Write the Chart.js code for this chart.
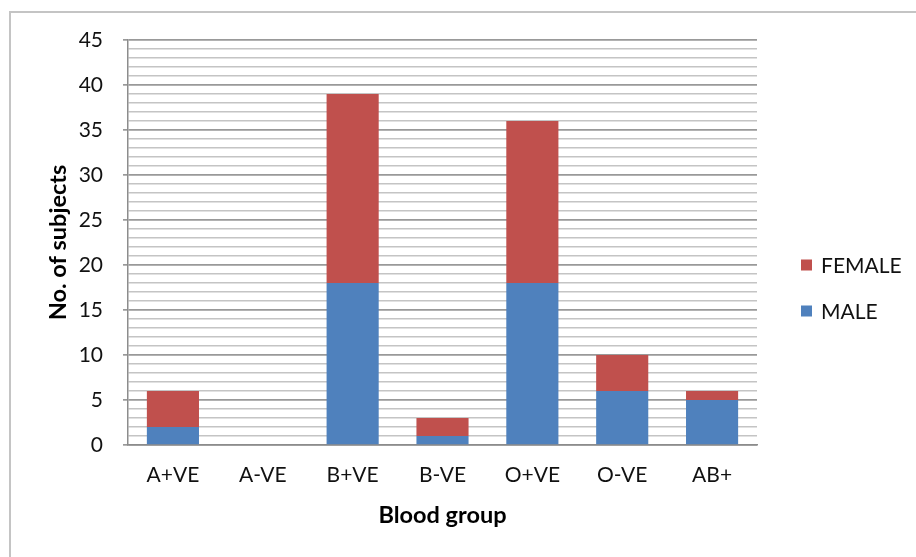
<!DOCTYPE html>
<html>
<head>
<meta charset="utf-8">
<script src="https://cdn.jsdelivr.net/npm/chart.js@4/dist/chart.umd.min.js"></script>
<style>
  html, body { margin: 0; padding: 0; background: #ffffff; }
  #wrap { width: 916px; height: 557px; }
</style>
</head>
<body>
<div id="wrap"><canvas id="chart" width="916" height="557"></canvas></div>
<script>
// Blood group distribution of subjects by sex
const bloodGroups = ['A+VE', 'A-VE', 'B+VE', 'B-VE', 'O+VE', 'O-VE', 'AB+'];
const maleCounts = [2, 0, 18, 1, 18, 6, 5];
const femaleCounts = [4, 0, 21, 2, 18, 4, 1];
const seriesNames = ['MALE', 'FEMALE'];
const yTickValues = [0, 5, 10, 15, 20, 25, 30, 35, 40, 45];

const FONT = 'Lato, "Open Sans", "Liberation Sans", sans-serif';
const BLUE = '#4f81bd';
const RED = '#c0504d';

// Outer frame of the chart object
const framePlugin = {
  id: 'frame',
  beforeDraw(chart) {
    const ctx = chart.ctx;
    ctx.save();
    ctx.fillStyle = '#ffffff';
    ctx.fillRect(0, 0, chart.width, chart.height);
    ctx.strokeStyle = '#c4c4c4';
    ctx.lineWidth = 2;
    ctx.strokeRect(10, 12, chart.width + 20, chart.height + 20);
    ctx.restore();
  }
};

// Legend on the right, last series on top
const sideLegendPlugin = {
  id: 'sideLegend',
  afterDraw(chart) {
    const ctx = chart.ctx;
    const sets = chart.data.datasets.slice().reverse();
    const x = chart.chartArea.right + 44;
    let y = 265;
    ctx.save();
    ctx.font = '21px ' + FONT;
    ctx.textBaseline = 'middle';
    ctx.textAlign = 'left';
    sets.forEach(ds => {
      ctx.fillStyle = ds.backgroundColor;
      ctx.fillRect(x, y - 5.5, 11, 11);
      ctx.fillStyle = '#111111';
      ctx.fillText(ds.label, x + 20, y + 1);
      y += 46;
    });
    ctx.restore();
  }
};

new Chart(document.getElementById('chart'), {
  type: 'bar',
  data: {
    labels: bloodGroups,
    datasets: [
      { label: seriesNames[0], data: maleCounts, backgroundColor: BLUE, borderWidth: 0 },
      { label: seriesNames[1], data: femaleCounts, backgroundColor: RED, borderWidth: 0 }
    ]
  },
  options: {
    responsive: false,
    maintainAspectRatio: false,
    animation: false,
    layout: { padding: { left: 0, right: 159, top: 40, bottom: 0 } },
    datasets: { bar: { categoryPercentage: 1.0, barPercentage: 0.58 } },
    plugins: {
      legend: { display: false },
      tooltip: { enabled: false }
    },
    scales: {
      x: {
        stacked: true,
        afterFit(scale) { scale.height = 112; },
        grid: { display: false, drawTicks: false },
        border: { display: true, color: '#8c8c8c', width: 1.5 },
        ticks: {
          padding: 18,
          color: '#111111',
          font: { family: FONT, size: 21 },
          maxRotation: 0
        },
        title: {
          display: true,
          text: 'Blood group',
          color: '#000000',
          font: { family: FONT, size: 23.5, weight: 'bold' },
          padding: { top: 0, bottom: 27 }
        }
      },
      y: {
        stacked: true,
        min: 0,
        max: 45,
        afterFit(scale) { scale.width = 128; },
        afterBuildTicks(scale) {
          const ticks = [];
          for (let v = 0; v <= yTickValues[yTickValues.length - 1]; v++) ticks.push({ value: v });
          scale.ticks = ticks;
        },
        grid: {
          drawTicks: true,
          tickLength: 5,
          color: c => (yTickValues.includes(c.tick.value) ? '#999999' : '#c4c4c4'),
          tickColor: c => (yTickValues.includes(c.tick.value) ? '#999999' : 'rgba(0,0,0,0)'),
          lineWidth: c => (yTickValues.includes(c.tick.value) ? 1.7 : 1.5)
        },
        border: { display: true, color: '#8c8c8c', width: 1.5 },
        ticks: {
          padding: 20,
          autoSkip: false,
          color: '#111111',
          font: { family: FONT, size: 21 },
          callback: v => (yTickValues.includes(v) ? String(v) : '')
        },
        title: {
          display: true,
          text: 'No. of subjects',
          color: '#000000',
          font: { family: FONT, size: 23.5, weight: 'bold' },
          padding: { top: 44, bottom: 0 }
        }
      }
    }
  },
  plugins: [framePlugin, sideLegendPlugin]
});
</script>
</body>
</html>
